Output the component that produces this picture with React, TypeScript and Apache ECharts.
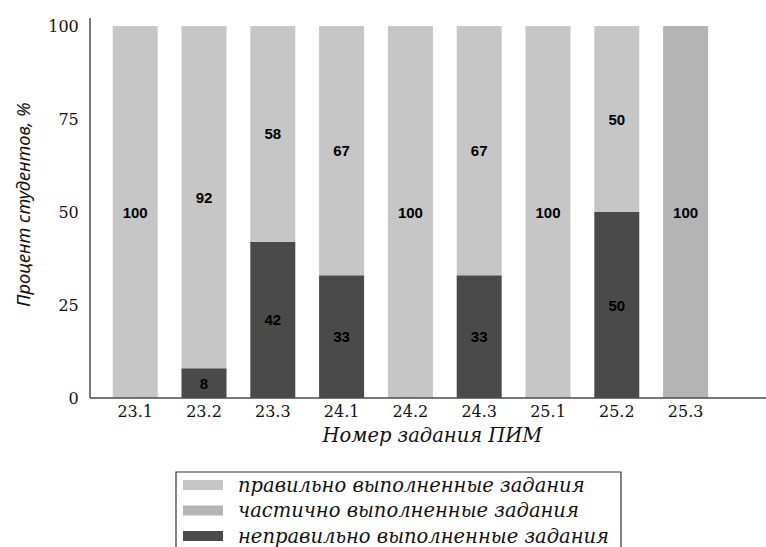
import React, { useEffect, useRef } from "react";
import * as echarts from "echarts";

const categories = ["23.1", "23.2", "23.3", "24.1", "24.2", "24.3", "25.1", "25.2", "25.3"];
const correct = [100, 92, 58, 67, 100, 67, 100, 50, 0];
const partial = [0, 0, 0, 0, 0, 0, 0, 0, 100];
const wrong = [0, 8, 42, 33, 0, 33, 0, 50, 0];
const yTicks = [0, 25, 50, 75, 100];

const seriesNames = [
  "правильно выполненные задания",
  "частично выполненные задания",
  "неправильно выполненные задания",
];
const colors = ["#c6c6c6", "#b4b4b4", "#4a4a4a"];

const labelCfg = {
  show: true,
  position: "inside",
  color: "#000",
  fontFamily: "Liberation Sans",
  fontWeight: "bold",
  fontSize: 15,
  formatter: (p: any) => (p.value ? String(p.value) : ""),
};

export default function App() {
  const ref = useRef<HTMLDivElement>(null);
  useEffect(() => {
    if (!ref.current) return;
    const chart = echarts.init(ref.current, undefined, { renderer: "svg" });
    const gridLeft = 100.8;
    const gridRight = 46;
    const gridTop = 26;
    const gridBottom = 149;
    const axisY = 547 - gridBottom;
    chart.setOption({
      animation: false,
      backgroundColor: "#fff",
      grid: { left: gridLeft, right: gridRight, top: gridTop, bottom: gridBottom },
      xAxis: {
        type: "category",
        data: categories,
        axisLine: { show: false },
        axisTick: { show: false },
        axisLabel: {
          color: "#111",
          fontFamily: "DejaVu Serif",
          fontSize: 16,
          margin: 5,
        },
        name: "Номер задания ПИМ",
        nameLocation: "middle",
        nameGap: 27,
        nameTextStyle: {
          color: "#111",
          fontFamily: "DejaVu Serif",
          fontStyle: "italic",
          fontSize: 19.5,
          padding: [0, 0, 0, 44],
        },
      },
      yAxis: {
        type: "value",
        min: 0,
        max: 100,
        interval: 25,
        axisLine: { show: false },
        axisTick: { show: false },
        splitLine: { show: false },
        axisLabel: {
          color: "#111",
          fontFamily: "DejaVu Serif",
          fontSize: 16,
          margin: 22,
          formatter: (v: number) => (yTicks.includes(v) ? String(v) : ""),
        },
        name: "Процент студентов, %",
        nameLocation: "middle",
        nameRotate: 90,
        nameGap: 69,
        nameTextStyle: {
          color: "#111",
          fontFamily: "Noto Sans",
          fontStyle: "italic",
          fontSize: 18.3,
          padding: [0, 0, 0, 15],
        },
      },
      legend: {
        orient: "vertical",
        left: 176,
        top: 472,
        height: 100,
        data: seriesNames,
        itemWidth: 40,
        itemHeight: 10,
        itemGap: 5.5,
        padding: [3, 12, 6, 7],
        borderColor: "#333",
        borderWidth: 1.2,
        borderRadius: 0,
        icon: "rect",
        textStyle: {
          color: "#111",
          fontFamily: "DejaVu Serif",
          fontStyle: "italic",
          fontSize: 19.5,
          lineHeight: 20,
          padding: [0, 0, 0, 10],
        },
      },
      graphic: [
        {
          type: "line",
          shape: { x1: 90, y1: 18, x2: 90, y2: axisY },
          style: { stroke: "#4d4d4d", lineWidth: 1.5 },
          z: 10,
        },
        {
          type: "line",
          shape: { x1: 90, y1: axisY, x2: 766, y2: axisY },
          style: { stroke: "#4d4d4d", lineWidth: 1.5 },
          z: 10,
        },
      ],
      series: [
        {
          name: seriesNames[2],
          type: "bar",
          stack: "total",
          data: wrong,
          barWidth: 45,
          itemStyle: { color: colors[2] },
          label: labelCfg,
        },
        {
          name: seriesNames[0],
          type: "bar",
          stack: "total",
          data: correct,
          barWidth: 45,
          itemStyle: { color: colors[0] },
          label: labelCfg,
        },
        {
          name: seriesNames[1],
          type: "bar",
          stack: "total",
          data: partial,
          barWidth: 45,
          itemStyle: { color: colors[1] },
          label: labelCfg,
        },
      ],
    });
    return () => chart.dispose();
  }, []);
  return (
    <div
      ref={ref}
      style={{ position: "absolute", left: 0, top: 0, width: 766, height: 547 }}
    />
  );
}
